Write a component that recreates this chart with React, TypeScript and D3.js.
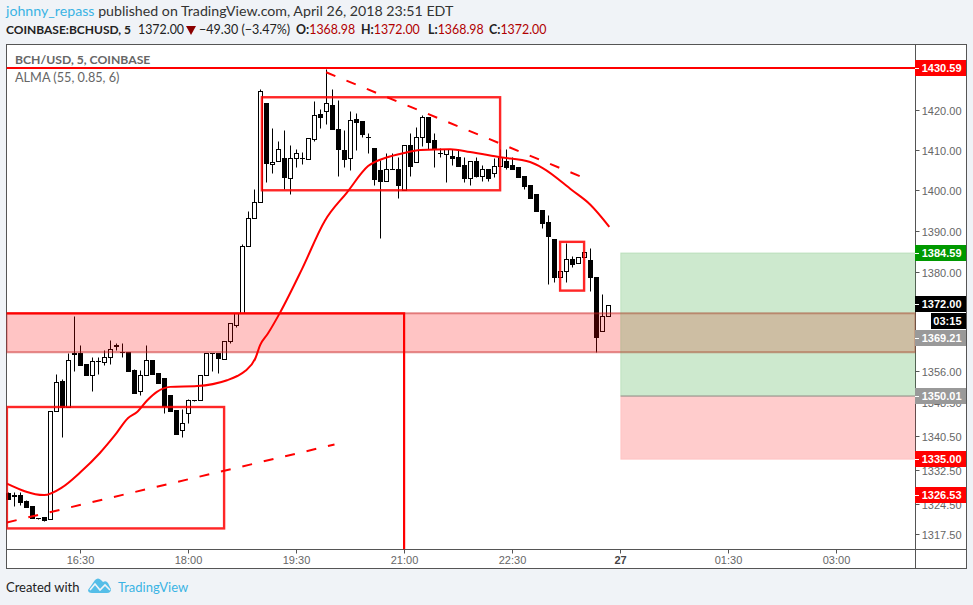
import React from "react";
import * as d3 from "d3";

const opens = [
  1327,1326.6,1326.7,1325.3,1324,1321.2,1321.4,1320.9,1346.4,1353.6,
  1347.4,1360.1,1360.2,1357.6,1355,1358.3,1358.1,1359.3,1362.2,1360.6,
  1360.5,1356.2,1351.2,1355,1358.6,1355.5,1354.3,1350.2,1346.7,1342,
  1346,1349,1349,1355,1360.2,1360.2,1358.8,1363.2,1367,1369.9,
  1386.3,1393.2,1397.2,1421.8,1406.6,1407.2,1408,1403,1408,1408,
  1407.8,1412.8,1419,1419.8,1421.2,1415.2,1410,1408,1417.8,1417.2,
  1413.2,1410.5,1405,1402.2,1405.2,1405.2,1400,1411.2,1407,1413.2,
  1418.2,1412.5,1409.2,1409,1408.5,1408.2,1406.2,1403,1407.2,1403.5,
  1405.2,1404.2,1406,1407.2,1406.2,1405.8,1403.5,1401.2,1399.2,1395.2,
  1392.2,1388,1378.8,1380.2,1383.2,1382.2,1383.7,1382.9,1378.6,1365.6,
  1369.2,
];
const closes = [
  1325.7,1326.4,1324.9,1323.7,1321.2,1321.2,1320.8,1346.4,1353.3,1347.4,
  1358.6,1360.2,1357.4,1355,1358.3,1358.3,1359.3,1361.2,1362,1360.6,
  1356,1350.7,1355,1358.6,1355.2,1353.1,1347.6,1346.4,1341,1343.6,
  1349,1349,1355,1360.2,1360.2,1359,1363.2,1367.5,1369.9,1386.3,
  1393.2,1397.2,1424.8,1406.8,1407,1410.2,1403.2,1408,1409.2,1408,
  1413,1418.8,1418.2,1421.8,1415.2,1410.2,1407.8,1417.5,1417,1414,
  1413.2,1402.8,1402.2,1405.2,1405.2,1401.2,1411.2,1406,1413.2,1418.2,
  1412,1410.2,1409.2,1410.2,1408,1406,1403,1407.2,1403.5,1405.2,
  1403,1406,1408.2,1405.8,1405.2,1403.2,1401,1398,1395,1392,
  1388.8,1378.8,1380.2,1383.2,1382,1383.7,1384.9,1378.8,1364.1,1369.2,
  1372,
];
const highs = [
  1327.2,1327.4,1327.4,1325.5,1324,1321.3,1321.4,1346.4,1355.2,1354,
  1360.2,1369.2,1362.2,1357.6,1359.3,1359.3,1361,1363.4,1362.7,1362.7,
  1360.5,1356.4,1356.2,1362.2,1358.6,1355.5,1354.3,1350.2,1346.7,1346.9,
  1349.3,1349.1,1355,1360.2,1360.2,1360.2,1363.2,1367.5,1369.9,1386.8,
  1395,1400.2,1425.2,1421.8,1415.5,1412.2,1415,1411.2,1410.2,1409.5,
  1413,1422.2,1420.2,1430.2,1425.2,1422.5,1415,1419.8,1419.2,1417.2,
  1414.2,1410.5,1407.5,1409.2,1409.2,1408.2,1411.2,1414.2,1415.8,1418.8,
  1418.2,1414.2,1410.5,1410.2,1410.2,1410.2,1408.2,1407.2,1408.2,1406.2,
  1405.2,1408,1410.2,1410.2,1408.2,1405.8,1403.5,1401.2,1399.2,1395.2,
  1394,1388,1380.2,1387.1,1383.9,1383.7,1384.9,1385.9,1378.6,1374.5,
  1372,
];
const lows = [
  1325.6,1324,1324.2,1323.7,1321.2,1321.1,1320.5,1320.9,1346.4,1340.2,
  1347.4,1356,1357.4,1355,1351.2,1355.2,1357.4,1357.6,1361,1359.3,
  1356,1350.7,1350.2,1355,1355.2,1353.1,1346,1346.4,1341,1340.2,
  1343.6,1348.9,1349,1355,1356,1355.5,1358.8,1362.7,1366.5,1369.9,
  1386.3,1393.2,1397.2,1402,1404.2,1407.2,1400.2,1399.2,1405.8,1406.5,
  1407.8,1412.2,1415.5,1416.5,1415.2,1403.5,1405.8,1405,1410,1413.2,
  1409.2,1401.2,1388.3,1402.2,1405.2,1398.2,1400,1403.5,1407,1411,
  1410.2,1405.8,1408.2,1402,1406.2,1406,1402,1401.2,1403.2,1402.2,
  1402.2,1403.2,1406,1405.2,1405.2,1403.2,1400.2,1398,1395,1390.8,
  1377.1,1377.6,1378.8,1377.6,1381.2,1382.2,1383.7,1375.2,1360.5,1365.6,
  1369.2,
];

const almaBars = [-0.3,5.9,8.9,11.9,15.2,17.7,19.9,21.4,23.1,24.7,26.9,31.4,36.4,38.1,39.4,41.1,41.9,43.2,45.2,48.9,52.7,56.4,59.9,63.1,65.7,68.6,73.6,76.9,81.9,86.9,89,93.9,96.9,100.1];
const almaValues = [1329.3,1326.6,1328.4,1331.9,1336.5,1340.7,1344.8,1346.2,1349,1351,1352.2,1352.4,1353.8,1354.8,1356,1359,1362.2,1365,1370,1380.7,1392.5,1399.5,1406,1408.2,1409.2,1410,1410.2,1409.5,1408.2,1407,1405.5,1400,1396.5,1391];

const priceTicks = [1420,1410,1400,1390,1380,1356,1348.5,1340.5,1332.5,1324.5,1317.5];
const timeTickBars = [12,30,48,66,84,102,120,138];
const timeTickLabels = ["16:30","18:00","19:30","21:00","22:30","27","01:30","03:00"];

const resistance = 1430.59;
const zoneTop = 1369.9;
const zoneBottom = 1360.5;
const zoneLineEndBar = 65.9;
const box1 = [-0.3, 35.9, 1347.4, 1318.8];
const box2 = [42.2, 81.9, 1423.2, 1400];
const box3 = [91.9, 95.9, 1387.3, 1375.4];
const trendUp = [[-0.3,1320.2],[54.3,1338.5]];
const trendDown = [[52.9,1429.5],[95.2,1403.5]];
const forecastStartBar = 102;
const target = 1384.59, entry = 1350.01, stop = 1335;

const priceFlags = [
  { label: "1430.59", price: 1430.59, color: "#ff0000" },
  { label: "1384.59", price: 1384.59, color: "#009900" },
  { label: "1372.00", price: 1372, color: "#000000" },
  { label: "1369.21", price: 1369.21, shown: 1364, color: "#999999" },
  { label: "1350.01", price: 1350.01, color: "#999999" },
  { label: "1335.00", price: 1335, color: "#ff0000" },
  { label: "1326.53", price: 1326.53, color: "#ff0000" },
];
const ohlc = [
  { key: "O:", value: "1368.98", at: 296 },
  { key: "H:", value: "1372.00", at: 361 },
  { key: "L:", value: "1368.98", at: 428 },
  { key: "C:", value: "1372.00", at: 489 },
];

const W = 973, H = 605;
const L = 6.5, R = 915.5, T = 44.5, B = 549.5, AR = 966.5, AB = 568.5;
const ui = "Lato, sans-serif";
const ax = "'Liberation Sans', Arial, sans-serif";

export default function App() {
  const x = d3.scaleLinear().domain([0, 100]).range([8.7, 608.7]);
  const y = d3.scaleLog().domain([1420, 1317.5]).range([110, 534]);
  const px = (v: number) => Math.floor(x(v)) + 0.5;
  const py = (v: number) => Math.round(y(v)) + 0.5;
  const almaLine = d3.line<number>().x((_, i) => x(almaBars[i])).y((d) => y(d)).curve(d3.curveMonotoneX);
  const boxes = [box1, box2, box3];
  return (
    <svg width={W} height={H} viewBox={`0 0 ${W} ${H}`} style={{ position: "absolute", left: 0, top: 0, background: "#f0f3f7", display: "block" }}>
      <defs>
        <clipPath id="plot"><rect x={L} y={T} width={R - L} height={B - T} /></clipPath>
      </defs>
      <text x={6} y={16} fontFamily={ui} fontSize={14.2} fill="#333">
        <tspan fill="#3bb3e4">johnny_repass</tspan> published on TradingView.com, April 26, 2018 23:51 EDT
      </text>
      <text x={6} y={34} fontFamily={ui} fontSize={12} fill="#222" fontWeight={700}>COINBASE:BCHUSD, 5</text>
      <text x={138} y={34} fontFamily={ui} fontSize={12.4} fill="#222">1372.00</text>
      <path d="M186,26 h10 l-5,9 z" fill="#8b0000" />
      <text x={199} y={34} fontFamily={ui} fontSize={12.5} fill="#222">−49.30 (−3.47%)</text>
      {ohlc.map((d) => (
        <text key={d.key} x={d.at} y={34} fontFamily={ui} fontSize={12.4} fill="#222">
          <tspan fontWeight={700}>{d.key}</tspan><tspan fill="#b00000">{d.value}</tspan>
        </text>
      ))}

      <rect x={L} y={T} width={AR - L} height={AB - T} fill="#fff" stroke="#555" />
      <line x1={R} x2={R} y1={T} y2={AB} stroke="#555" />
      <line x1={L} x2={AR} y1={B} y2={B} stroke="#555" />

      <text x={15} y={64} fontFamily={ui} fontSize={12.2} fontWeight={700} fill="#666">BCH/USD, 5, COINBASE</text>
      <text x={15} y={82} fontFamily={ui} fontSize={12.7} fill="#666">ALMA (55, 0.85, 6)</text>

      <g clipPath="url(#plot)">
        {opens.map((o, i) => {
          const c = closes[i];
          const cx = px(i);
          const up = c >= o;
          const top = py(Math.max(o, c));
          const bot = py(Math.min(o, c));
          return (
            <g key={i}>
              <line x1={cx} x2={cx} y1={py(highs[i])} y2={py(lows[i])} stroke="#000" />
              <rect x={cx - 2} y={top} width={4} height={Math.max(bot - top, 0.01)} fill={up ? "#fff" : "#000"} stroke="#000" />
            </g>
          );
        })}

        <rect x={L} width={R - L} y={y(zoneTop)} height={y(zoneBottom) - y(zoneTop)} fill="rgba(255,0,0,0.23)" stroke="rgba(200,30,30,0.5)" strokeWidth={2} />
        <rect x={x(forecastStartBar)} width={R - x(forecastStartBar)} y={y(target)} height={y(entry) - y(target)} fill="rgba(76,175,80,0.28)" stroke="rgba(76,175,80,0.2)" />
        <rect x={x(forecastStartBar)} width={R - x(forecastStartBar)} y={y(entry)} height={y(stop) - y(entry)} fill="rgba(255,0,0,0.2)" stroke="rgba(255,0,0,0.1)" />
        <line x1={x(forecastStartBar)} x2={R} y1={y(entry)} y2={y(entry)} stroke="#999" />

        <line x1={L} x2={R} y1={y(resistance)} y2={y(resistance)} stroke="#ff0000" strokeWidth={2} />
        <path d={`M${L},${y(zoneTop)} H${x(zoneLineEndBar)} V${B}`} fill="none" stroke="#ff0000" strokeWidth={2.2} />
        {boxes.map((b, i) => (
          <rect key={i} x={x(b[0])} width={x(b[1]) - x(b[0])} y={y(b[2])} height={y(b[3]) - y(b[2])} fill="none" stroke="#ff0000" strokeOpacity={0.85} strokeWidth={2.4} />
        ))}
        {[trendUp, trendDown].map((t, i) => (
          <line key={i} x1={x(t[0][0])} y1={y(t[0][1])} x2={x(t[1][0])} y2={y(t[1][1])} stroke="#ff0000" strokeWidth={2} strokeDasharray="10 12" />
        ))}
        <path d={almaLine(almaValues) ?? ""} fill="none" stroke="#ff0000" strokeWidth={2} />
      </g>

      {priceTicks.map((p) => (
        <g key={p}>
          <line x1={R} x2={R + 4} y1={py(p)} y2={py(p)} stroke="#555" />
          <text x={961.5} y={py(p) + 4} textAnchor="end" fontFamily={ax} fontSize={11} fill="#666">{p.toFixed(2)}</text>
        </g>
      ))}
      {priceFlags.map((f) => {
        const yy = Math.round(y(f.shown ?? f.price) - 0.2);
        return (
          <g key={f.label}>
            <rect x={915} y={yy - 8} width={51} height={16} fill={f.color} />
            <line x1={915} x2={919} y1={yy + 0.5} y2={yy + 0.5} stroke="#fff" />
            <text x={961.5} y={yy + 4} textAnchor="end" fontFamily={ax} fontSize={11} fontWeight={700} fill="#fff">{f.label}</text>
          </g>
        );
      })}
      <rect x={931} y={313} width={35} height={16} fill="#000" />
      <text x={961.5} y={325} textAnchor="end" fontFamily={ax} fontSize={11} fontWeight={700} fill="#fff">03:15</text>

      {timeTickBars.map((b, i) => (
        <g key={b}>
          <line x1={px(b)} x2={px(b)} y1={B} y2={B + 4} stroke="#555" />
          <text x={px(b)} y={564} textAnchor="middle" fontFamily={ax} fontSize={11} fontWeight={timeTickLabels[i] === "27" ? 700 : 400} fill={timeTickLabels[i] === "27" ? "#444" : "#666"}>{timeTickLabels[i]}</text>
        </g>
      ))}

      <text x={6} y={592} fontFamily={ui} fontSize={13} fill="#222">Created with</text>
      <path d="M88,590 L95,580 Q98,577 101,580 L103,582 Q106,580 108,583 L111,589 Q111,593 107,593 L92,593 Q88,593 88,590 Z" fill="#55bee8" />
      <path d="M90,590 L95,584 L100,590 L105,585 L110,590" fill="none" stroke="#f0f3f7" strokeWidth={1.6} />
      <text x={118} y={592} fontFamily={ui} fontSize={13} fill="#3bb3e4">TradingView</text>
    </svg>
  );
}
